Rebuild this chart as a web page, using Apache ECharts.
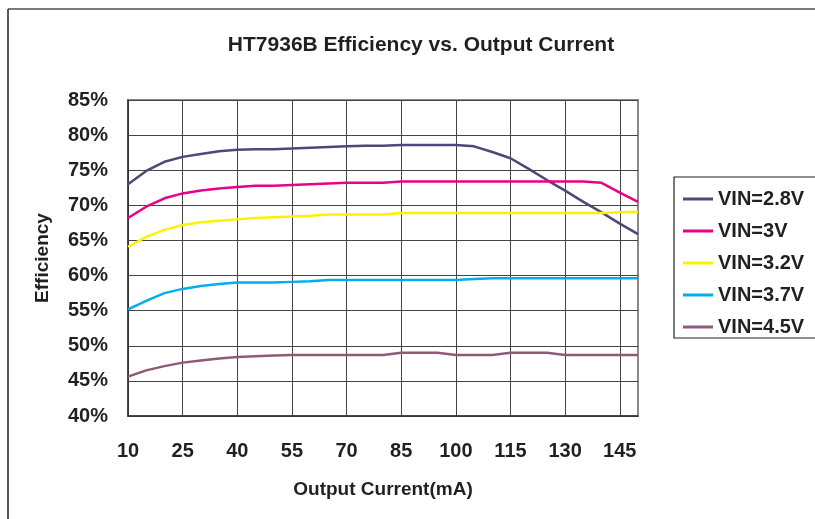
<!DOCTYPE html>
<html>
<head>
<meta charset="utf-8">
<script src="https://cdn.jsdelivr.net/npm/echarts@6/dist/echarts.min.js"></script>
<style>
  html, body { margin: 0; padding: 0; background: #fff; }
  #main { width: 815px; height: 519px; }
</style>
</head>
<body>
<div id="main"></div>
<script>
// output current (mA), every 5 mA
var currents = [10, 15, 20, 25, 30, 35, 40, 45, 50, 55, 60, 65, 70, 75, 80,
  85, 90, 95, 100, 105, 110, 115, 120, 125, 130, 135, 140, 145, 150];

// efficiency in %
var vin28 = [73.0, 74.9, 76.2, 76.9, 77.3, 77.7, 77.9, 78.0, 78.0, 78.1, 78.2, 78.3, 78.4, 78.5, 78.5,
  78.6, 78.6, 78.6, 78.6, 78.4, 77.6, 76.7, 75.2, 73.6, 72.1, 70.5, 69.0, 67.4, 65.9];
var vin30 = [68.2, 69.8, 71.0, 71.7, 72.1, 72.4, 72.6, 72.8, 72.8, 72.9, 73.0, 73.1, 73.2, 73.2, 73.2,
  73.4, 73.4, 73.4, 73.4, 73.4, 73.4, 73.4, 73.4, 73.4, 73.4, 73.4, 73.2, 71.8, 70.5];
var vin32 = [64.1, 65.5, 66.5, 67.2, 67.6, 67.8, 68.0, 68.2, 68.3, 68.4, 68.5, 68.7, 68.7, 68.7, 68.7,
  68.9, 68.9, 68.9, 68.9, 68.9, 68.9, 68.9, 68.9, 68.9, 68.9, 68.9, 68.9, 69.0, 69.1];
var vin37 = [55.2, 56.4, 57.5, 58.1, 58.5, 58.8, 59.0, 59.0, 59.0, 59.1, 59.2, 59.35, 59.35, 59.35, 59.35,
  59.35, 59.35, 59.35, 59.35, 59.5, 59.6, 59.6, 59.6, 59.6, 59.6, 59.6, 59.6, 59.6, 59.6];
var vin45 = [45.6, 46.5, 47.1, 47.6, 47.9, 48.2, 48.4, 48.5, 48.6, 48.7, 48.7, 48.7, 48.7, 48.7, 48.7,
  49.0, 49.0, 49.0, 48.7, 48.7, 48.7, 49.0, 49.0, 49.0, 48.7, 48.7, 48.7, 48.7, 48.7];

var seriesNames = ['VIN=2.8V', 'VIN=3V', 'VIN=3.2V', 'VIN=3.7V', 'VIN=4.5V'];
var seriesData = [vin28, vin30, vin32, vin37, vin45];
var colors = ['#4b4977', '#e8008a', '#fff200', '#00aeef', '#8e5a78'];

var font = 'Liberation Sans, Arial, sans-serif';
var txt = '#231f20';

var chart = echarts.init(document.getElementById('main'));

var series = [];
for (var i = 0; i < seriesData.length; i++) {
  series.push({
    name: seriesNames[i],
    type: 'line',
    data: seriesData[i],
    symbol: 'none',
    lineStyle: { width: 2.5, color: colors[i] },
    itemStyle: { color: colors[i] }
  });
}

var option = {
  animation: false,
  textStyle: { fontFamily: font },
  title: {
    text: 'HT7936B Efficiency vs. Output Current',
    left: 416,
    top: 30,
    textAlign: 'center',
    textStyle: { fontFamily: font, fontSize: 21, fontWeight: 'bold', color: txt }
  },
  legend: {
    orient: 'vertical',
    left: 678,
    top: 184,
    icon: 'rect',
    itemWidth: 30,
    itemHeight: 3,
    itemGap: 12,
    textStyle: { fontFamily: font, fontSize: 20, fontWeight: 'bold', color: txt },
    data: seriesNames
  },
  grid: {
    left: 128,
    top: 100,
    right: 177,
    bottom: 103,
    show: true,
    borderColor: '#8a8a8a',
    borderWidth: 2
  },
  xAxis: {
    type: 'category',
    data: currents,
    boundaryGap: false,
    name: 'Output Current(mA)',
    nameLocation: 'middle',
    nameGap: 64,
    nameTextStyle: { fontFamily: font, fontSize: 19, fontWeight: 'bold', color: txt },
    axisLine: { lineStyle: { color: '#333', width: 1.5 } },
    axisTick: { show: false },
    axisLabel: {
      interval: 2,
      margin: 25,
      fontFamily: font,
      fontSize: 20,
      fontWeight: 'bold',
      color: txt
    },
    splitLine: { show: true, interval: 2, lineStyle: { color: '#444', width: 1 } }
  },
  yAxis: {
    type: 'value',
    min: 40,
    max: 85,
    interval: 5,
    name: 'Efficiency',
    nameLocation: 'middle',
    nameGap: 76,
    nameTextStyle: { fontFamily: font, fontSize: 19, fontWeight: 'bold', color: txt },
    axisLine: { show: true, lineStyle: { color: '#333', width: 1.5 } },
    axisTick: { show: false },
    axisLabel: {
      formatter: '{value}%',
      margin: 20,
      fontFamily: font,
      fontSize: 20,
      fontWeight: 'bold',
      color: txt
    },
    splitLine: { show: true, lineStyle: { color: '#444', width: 1 } }
  },
  graphic: [
    {
      type: 'line',
      shape: { x1: 8, y1: 9, x2: 815, y2: 9 },
      style: { stroke: '#7a7a7a', lineWidth: 2 }
    },
    {
      type: 'line',
      shape: { x1: 8, y1: 9, x2: 8, y2: 519 },
      style: { stroke: '#222', lineWidth: 1.5 }
    },
    {
      type: 'rect',
      shape: { x: 674, y: 177, width: 160, height: 161 },
      style: { fill: 'none', stroke: '#222', lineWidth: 1.2 }
    }
  ],
  series: series
};

chart.setOption(option);
</script>
</body>
</html>
